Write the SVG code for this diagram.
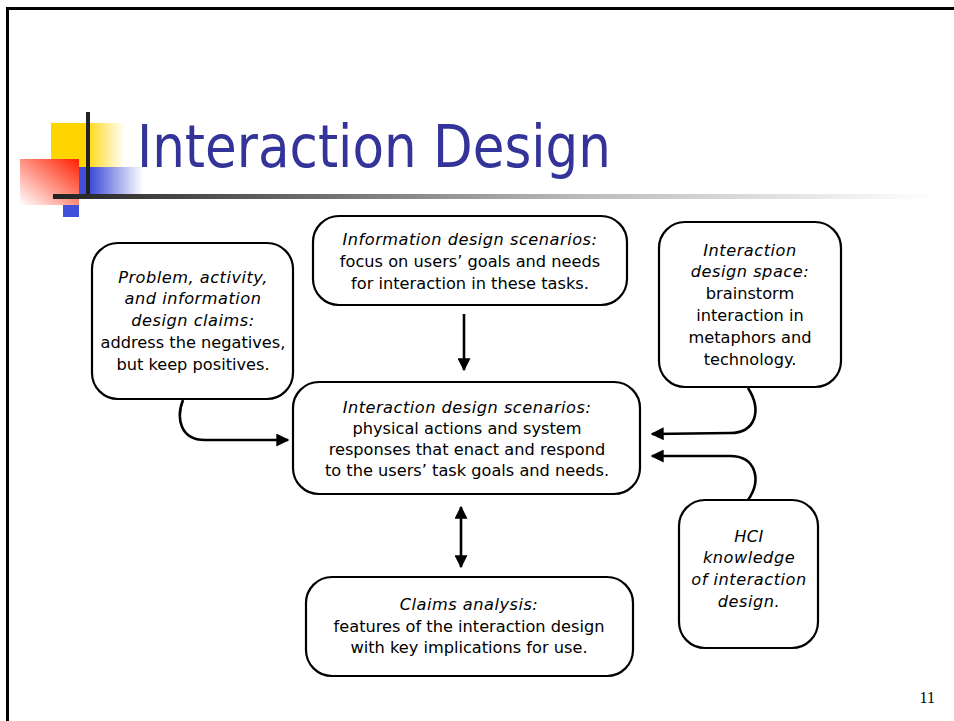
<svg xmlns="http://www.w3.org/2000/svg" width="954" height="721" viewBox="0 0 954 721">
<defs>
<linearGradient id="gy" x1="0" y1="0" x2="1" y2="0"><stop offset="0.45" stop-color="#FFD500"/><stop offset="1" stop-color="#FFFFFF"/></linearGradient>
<linearGradient id="gb" x1="0" y1="0" x2="1" y2="0"><stop offset="0.35" stop-color="#4050D8"/><stop offset="1" stop-color="#FFFFFF"/></linearGradient>
<linearGradient id="gr" x1="1" y1="0" x2="0" y2="1"><stop offset="0" stop-color="#FF2000"/><stop offset="1" stop-color="#FFFFFF"/></linearGradient>
<linearGradient id="gl" x1="0" y1="0" x2="1" y2="0"><stop offset="0" stop-color="#222222"/><stop offset="0.6" stop-color="#BBBBBB"/><stop offset="1" stop-color="#FFFFFF"/></linearGradient>
<marker id="ah" viewBox="0 0 10 10" refX="9" refY="5" markerWidth="5" markerHeight="5" orient="auto-start-reverse" markerUnits="strokeWidth"><path d="M0,0 L10,5 L0,10 z" fill="#000"/></marker>
</defs>
<style>
.box{fill:#fff;stroke:#000;stroke-width:2.2}
.t{font-family:"DejaVu Sans","Noto Sans",sans-serif;font-size:16.2px;fill:#000;text-anchor:middle}
.i{font-style:italic;letter-spacing:0.5px}
.c{fill:none;stroke:#000;stroke-width:2.6}
</style>
<rect width="954" height="721" fill="#fff"/>
<path d="M7.5,721 V8.5 H954" fill="none" stroke="#000" stroke-width="3"/>
<g id="logo">
<rect x="51" y="123" width="74" height="44" fill="url(#gy)"/>
<rect x="63" y="167" width="80" height="27" fill="url(#gb)"/>
<rect x="63" y="205" width="16" height="12" fill="#4050D8"/>
<rect x="20" y="159" width="59" height="46" fill="url(#gr)"/>
<rect x="86" y="112" width="4" height="82" fill="#222"/>
<rect x="53" y="194" width="880" height="5" fill="url(#gl)"/>
</g>
<text x="137" y="167" font-family="Tahoma,'DejaVu Sans',sans-serif" font-size="58" fill="#333399" textLength="474" lengthAdjust="spacingAndGlyphs">Interaction Design</text>
<g id="connectors">
<line class="c" x1="464" y1="314" x2="464" y2="370" marker-end="url(#ah)"/>
<path class="c" d="M183,400 C176,418 180,440 205,440 L288,440" marker-end="url(#ah)"/>
<path class="c" d="M748,388 C762,410 756,433 730,433 L652,434" marker-end="url(#ah)"/>
<path class="c" d="M748,500 C762,480 756,456 730,456 L652,456" marker-end="url(#ah)"/>
<line class="c" x1="461" y1="507" x2="461" y2="567" marker-start="url(#ah)" marker-end="url(#ah)"/>
</g>
<g id="n-problem">
<rect class="box" x="92" y="243" width="201" height="156" rx="26"/>
<text class="t i" x="193" y="283">Problem, activity,</text>
<text class="t i" x="193" y="304">and information</text>
<text class="t i" x="193" y="326">design claims:</text>
<text class="t" x="193" y="348">address the negatives,</text>
<text class="t" x="193" y="370">but keep positives.</text>
</g>
<g id="n-info">
<rect class="box" x="313" y="216" width="314" height="89" rx="26"/>
<text class="t i" x="470" y="245">Information design scenarios:</text>
<text class="t" x="470" y="267">focus on users’ goals and needs</text>
<text class="t" x="470" y="289">for interaction in these tasks.</text>
</g>
<g id="n-space">
<rect class="box" x="659" y="222" width="182" height="165" rx="26"/>
<text class="t i" x="750" y="256">Interaction</text>
<text class="t i" x="750" y="277">design space:</text>
<text class="t" x="750" y="299">brainstorm</text>
<text class="t" x="750" y="321">interaction in</text>
<text class="t" x="750" y="343">metaphors and</text>
<text class="t" x="750" y="365">technology.</text>
</g>
<g id="n-interaction">
<rect class="box" x="293" y="382" width="347" height="112" rx="26"/>
<text class="t i" x="467" y="413">Interaction design scenarios:</text>
<text class="t" x="467" y="434">physical actions and system</text>
<text class="t" x="467" y="455">responses that enact and respond</text>
<text class="t" x="467" y="476">to the users’ task goals and needs.</text>
</g>
<g id="n-hci">
<rect class="box" x="679" y="500" width="139" height="148" rx="26"/>
<text class="t i" x="749" y="542">HCI</text>
<text class="t i" x="749" y="563">knowledge</text>
<text class="t i" x="749" y="585">of interaction</text>
<text class="t i" x="749" y="607">design.</text>
</g>
<g id="n-claims">
<rect class="box" x="306" y="577" width="327" height="99" rx="26"/>
<text class="t i" x="469" y="610">Claims analysis:</text>
<text class="t" x="469" y="632">features of the interaction design</text>
<text class="t" x="469" y="653">with key implications for use.</text>
</g>
<text x="935" y="703" font-family="'Liberation Serif',serif" font-size="16" text-anchor="end" fill="#000">11</text>
</svg>
